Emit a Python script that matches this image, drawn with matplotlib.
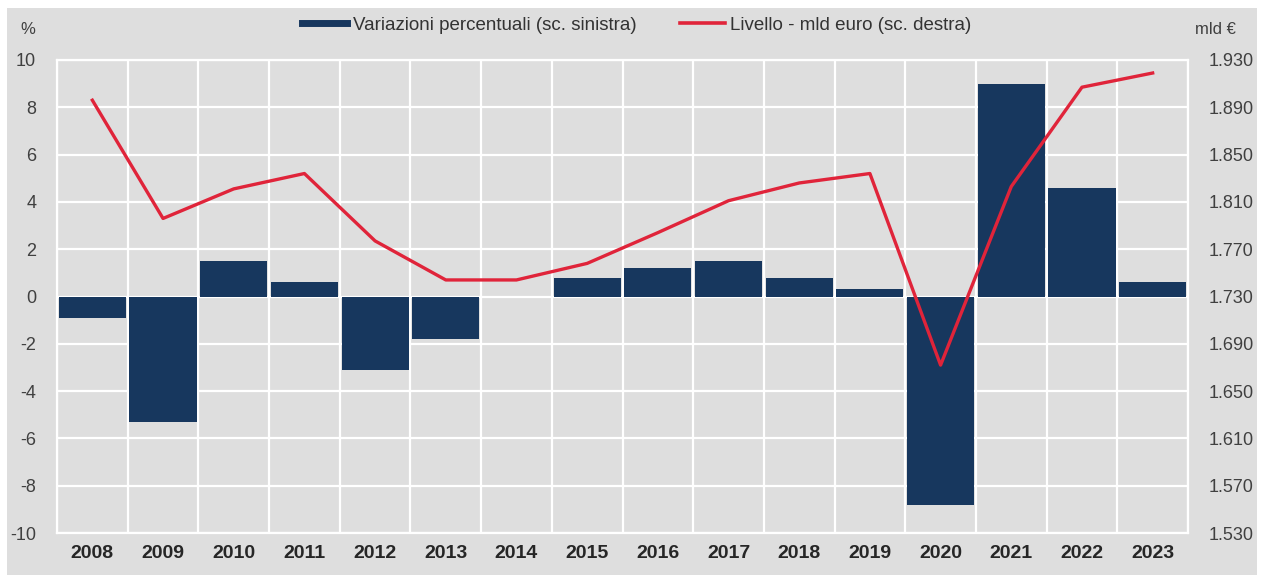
import matplotlib
matplotlib.use("Agg")
import matplotlib.pyplot as plt
from matplotlib.lines import Line2D
from matplotlib.patches import Rectangle
import numpy as np

years = ["2008", "2009", "2010", "2011", "2012", "2013", "2014", "2015",
         "2016", "2017", "2018", "2019", "2020", "2021", "2022", "2023"]
var_pct = [-0.9, -5.3, 1.5, 0.6, -3.1, -1.8, 0.0, 0.8,
           1.2, 1.5, 0.8, 0.3, -8.8, 9.0, 4.6, 0.6]
level_mld = [1896, 1796, 1821, 1834, 1777, 1744, 1744, 1758,
             1784, 1811, 1826, 1834, 1672, 1823, 1907, 1919]
left_ticks = [-10, -8, -6, -4, -2, 0, 2, 4, 6, 8, 10]
right_ticks = [1530, 1570, 1610, 1650, 1690, 1730, 1770, 1810, 1850, 1890, 1930]

BG = "#dedede"
NAVY = "#17375e"
RED = "#e0243a"
plt.rcParams['font.family'] = ['Liberation Sans', 'DejaVu Sans']

fig = plt.figure(figsize=(12.66, 5.81), dpi=100, facecolor="white")
fig.patches.append(Rectangle((7/1266, 6/581), 1250/1266, 567/581, transform=fig.transFigure,
                             facecolor=BG, edgecolor="none", zorder=-10))
ax = fig.add_axes([57/1266, 48/581, 1131/1266, 473/581])
ax.set_facecolor(BG)
x = np.arange(len(years))
ax.bar(x, var_pct, width=0.95, color=NAVY, zorder=3)
ax.set_xlim(-0.5, len(years) - 0.5)
ax.set_ylim(-10, 10)
ax.set_yticks(left_ticks)
ax.set_yticklabels([str(t) for t in left_ticks])
ax.set_xticks(x)
ax.set_xticklabels(years, fontweight="bold", fontsize=14, color="#262626")
ax.set_xticks(np.arange(len(years) + 1) - 0.5, minor=True)
ax.grid(True, axis="y", which="major", color="white", lw=1.6, zorder=0)
ax.grid(True, axis="x", which="minor", color="white", lw=1.6, zorder=0)
ax.grid(False, axis="x", which="major")
ax.tick_params(axis="both", which="both", length=0)
ax.tick_params(axis="y", labelsize=13, colors="#404040", pad=15)
ax.tick_params(axis="x", pad=9)
for s in ax.spines.values():
    s.set_color("white")
    s.set_linewidth(1.6)
ax.set_axisbelow(True)

ax2 = ax.twinx()
ax2.plot(x, level_mld, color=RED, lw=2.4, zorder=5)
ax2.set_ylim(1530, 1930)
ax2.set_yticks(right_ticks)
ax2.set_yticklabels([f"{t:,}".replace(",", ".") for t in right_ticks])
ax2.tick_params(axis="y", length=0, labelsize=13, colors="#404040", pad=14.5)
for s in ax2.spines.values():
    s.set_visible(False)

fig.text(20/1266, 1 - 30/581, "%", fontsize=12, color="#404040", ha="left", va="center")
fig.text(1195/1266, 1 - 30/581, "mld €", fontsize=12, color="#404040", ha="left", va="center")

handles = [Line2D([], [], color=NAVY, lw=5),
           Line2D([], [], color=RED, lw=2.6)]
labels = ["Variazioni percentuali (sc. sinistra)", "Livello - mld euro (sc. destra)"]
fig.legend(handles, labels, loc="center", bbox_to_anchor=(637/1266, 1 - 25/581), ncol=2,
           frameon=False, fontsize=13.5, handlelength=2.4, handletextpad=0.3,
           columnspacing=2.3, labelcolor="#333333")

fig.savefig("out.png", dpi=100, facecolor="white")
